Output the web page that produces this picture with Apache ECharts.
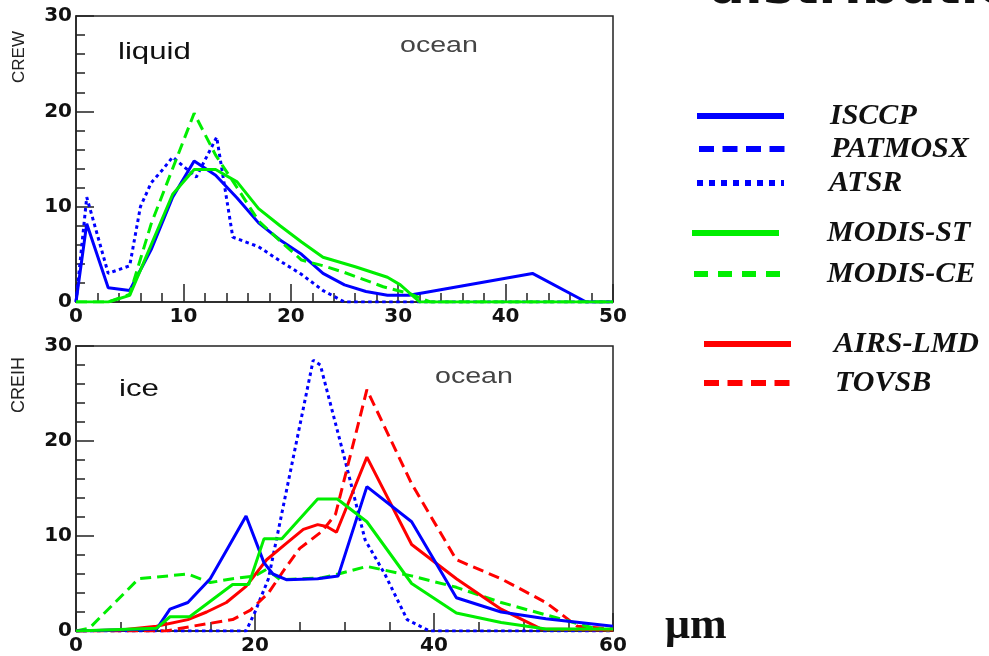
<!DOCTYPE html>
<html>
<head>
<meta charset="utf-8">
<script src="https://cdn.jsdelivr.net/npm/echarts@6/dist/echarts.min.js"></script>
<style>
html,body{margin:0;padding:0;background:#fff;}
#chart{width:989px;height:656px;}
</style>
</head>
<body>
<div id="chart"></div>
<script>
// ---- data: [effective radius (µm), frequency] ----
const liqISCCP   = [[0,0],[1,8.2],[3,1.5],[5,1.2],[7,5.5],[9,11],[11,14.8],[13,13.3],[15,10.9],[17,8.3],[19,6.5],[21,5],[23,3],[25,1.8],[27,1.1],[29,0.7],[31,0.7],[32.5,1],[42.5,3],[47.5,0],[50,0]];
const liqATSR    = [[0,0],[1,11],[3,3],[5,3.8],[6,10],[7,12.5],[8,13.8],[9,15.2],[11.2,13.1],[13.1,17.3],[14.6,6.8],[17,5.8],[19,4.3],[21,2.9],[23,1.2],[25,0],[50,0]];
const liqMODISST = [[0,0],[3,0],[5,0.7],[7,6],[9,11.3],[11,13.9],[13,13.9],[15,12.6],[17,9.8],[19,8],[21,6.3],[23,4.7],[26,3.7],[29,2.6],[30.2,1.8],[32,0],[50,0]];
const liqMODISCE = [[0,0],[3,0],[5,0.8],[7,8.2],[9,14],[11,19.8],[13,15.4],[15,12],[17,8.5],[19,6.4],[21,4.4],[23,3.8],[25,3.1],[28.6,1.6],[31,0.9],[33,0],[50,0]];

const iceISCCP   = [[0,0],[9,0.2],[10.5,2.3],[12.5,3],[15,5.5],[17,8.8],[19,12.1],[21,7.2],[22,6],[23.5,5.4],[27,5.5],[29.3,5.8],[32.5,15.2],[37.5,11.5],[42.5,3.5],[47.5,2],[52.5,1.3],[60,0.5]];
const iceATSR    = [[0,0],[19,0],[20,2],[21.5,5.5],[26.5,28.5],[27.3,28],[30,18.2],[32.3,9.6],[34.5,6],[37,1.2],[39.5,0],[60,0]];
const iceMODISST = [[0,0],[9,0.3],[10.5,1.5],[12.7,1.5],[17.5,4.9],[19.3,4.9],[21,9.7],[23,9.7],[27,13.9],[29.2,13.9],[32.5,11.5],[37.5,5],[42.5,1.9],[47.5,0.9],[52.5,0.2],[60,0.2]];
const iceMODISCE = [[0,0],[1.5,0.3],[7,5.5],[12.5,6],[15,5.1],[17.5,5.5],[20,5.8],[21.3,6.5],[22.8,5.4],[27.5,5.6],[29.3,6],[32.5,6.8],[37.5,5.8],[42.5,4.6],[47.5,3],[52.5,1.7],[57.5,0.4],[60,0]];
const iceAIRSLMD = [[0,0],[5,0.1],[9,0.5],[12.5,1.2],[14.6,2],[16.8,3],[19,4.7],[21.3,7.5],[23.6,9.3],[25.4,10.7],[27,11.2],[28,11],[29.1,10.4],[32.5,18.3],[37.5,9.1],[42.5,5.5],[47.5,2.3],[52,0.2],[60,0.1]];
const iceTOVSB   = [[0,0],[10,0],[13,0.5],[17.5,1.2],[19.5,2.2],[21.5,4],[23.3,6.5],[25,8.7],[27.5,10.5],[29,12.3],[32.5,25.4],[37.5,15.5],[42.5,7.5],[47.5,5.5],[52.5,3],[56,0.5],[60,0.2]];
const patmosx    = [];

const seriesNames = ['ISCCP','PATMOSX','ATSR','MODIS-ST','MODIS-CE','AIRS-LMD','TOVSB'];
const panelLabels = ['liquid','ice'];
const axisNames = ['CREW','CREIH'];

// ---- styles ----
const BLUE='#0000ff', GREEN='#00ee00', RED='#ff0000';
const DASH=[11,6], DOT=[3.5,3.5];
const tickFont = {color:'#111', fontFamily:'DejaVu Sans', fontWeight:'bold', fontSize:20};

function xAx(idx, max, interval, minorSplit){
  return {type:'value', gridIndex:idx, min:0, max:max, interval:interval,
    axisLine:{show:true, lineStyle:{color:'#222', width:1.5}},
    axisTick:{show:true, inside:true, length:18, lineStyle:{color:'#222', width:1.5}},
    minorTick:{show:true, splitNumber:minorSplit, length:9, lineStyle:{color:'#222', width:1.5}},
    splitLine:{show:false},
    axisLabel:{...tickFont, margin:5}};
}
function yAx(idx){
  return {type:'value', gridIndex:idx, min:0, max:30, interval:10,
    axisLine:{show:true, lineStyle:{color:'#222', width:1.5}},
    axisTick:{show:true, inside:true, length:18, lineStyle:{color:'#222', width:1.5}},
    minorTick:{show:true, splitNumber:5, length:9, lineStyle:{color:'#222', width:1.5}},
    splitLine:{show:false},
    axisLabel:{...tickFont, margin:4}};
}
function ser(name, data, color, type, idx){
  return {name:name, type:'line', data:data, xAxisIndex:idx, yAxisIndex:idx,
    symbol:'none', showSymbol:false, smooth:false, animation:false, clip:true,
    lineStyle:{color:color, width:3, type:type}, itemStyle:{color:color}};
}
function leg(name, lineStart, textX, cy, dash){
  return {data:[name], left:lineStart-5, top:cy-23, padding:5,
    itemWidth:87, itemHeight:36, selectedMode:false,
    itemStyle:{opacity:0, borderWidth:0},
    lineStyle:{width:6, type:dash, cap:'butt'},
    textStyle:{color:'#111', fontFamily:'Liberation Serif', fontStyle:'italic', fontWeight:'bold', fontSize:30,
      padding:[0,0,0,textX-(lineStart+87+5)]}};
}
function txt(text, x, y, font, opts){
  return Object.assign({type:'text', x:x, y:y, silent:true,
    style:{text:text, font:font, fill:'#111', align:'left', verticalAlign:'middle'}}, opts||{});
}

const option = {
  backgroundColor:'#fff',
  animation:false,
  grid:[
    {left:76, top:16, width:537, height:286, show:true, borderColor:'#222', borderWidth:1.5, backgroundColor:'#fff'},
    {left:76, top:346, width:537, height:286, show:true, borderColor:'#222', borderWidth:1.5, backgroundColor:'#fff'}
  ],
  xAxis:[xAx(0,50,10,5), xAx(1,60,20,4)],
  yAxis:[yAx(0), yAx(1)],
  legend:[
    leg('ISCCP',694,827,119,'solid'),
    leg('PATMOSX',696,828,152,[15,8.5]),
    leg('ATSR',694,826,186,[6,6]),
    leg('MODIS-ST',689,824,236,'solid'),
    leg('MODIS-CE',691,824,277,[14,10]),
    leg('AIRS-LMD',701,831,347,'solid'),
    leg('TOVSB',701,832,386,[15,8.5])
  ],
  series:[
    ser('ISCCP', liqISCCP, BLUE, 'solid', 0),
    ser('ATSR', liqATSR, BLUE, DOT, 0),
    ser('MODIS-CE', liqMODISCE, GREEN, DASH, 0),
    ser('MODIS-ST', liqMODISST, GREEN, 'solid', 0),
    ser('PATMOSX', patmosx, BLUE, DASH, 1),
    ser('ATSR', iceATSR, BLUE, DOT, 1),
    ser('TOVSB', iceTOVSB, RED, DASH, 1),
    ser('MODIS-CE', iceMODISCE, GREEN, DASH, 1),
    ser('AIRS-LMD', iceAIRSLMD, RED, 'solid', 1),
    ser('ISCCP', iceISCCP, BLUE, 'solid', 1),
    ser('MODIS-ST', iceMODISST, GREEN, 'solid', 1)
  ],
  graphic:[
    txt(axisNames[0], 19, 57, '17px "Liberation Sans"', {rotation:Math.PI/2, style:{text:axisNames[0], font:'17px "Liberation Sans"', fill:'#222', align:'center', verticalAlign:'middle'}}),
    txt(axisNames[1], 19, 385, '18px "Liberation Sans"', {rotation:Math.PI/2, style:{text:axisNames[1], font:'18px "Liberation Sans"', fill:'#222', align:'center', verticalAlign:'middle'}}),
    txt(panelLabels[0], 118, 52, '24px "Liberation Sans"', {scaleX:1.3}),
    txt(panelLabels[1], 119, 389, '24px "Liberation Sans"', {scaleX:1.3}),
    txt('ocean', 400, 46, '22px "Liberation Sans"', {scaleX:1.3, style:{text:'ocean', font:'22px "Liberation Sans"', fill:'#444', align:'left', verticalAlign:'middle'}}),
    txt('ocean', 435, 377, '22px "Liberation Sans"', {scaleX:1.3, style:{text:'ocean', font:'22px "Liberation Sans"', fill:'#444', align:'left', verticalAlign:'middle'}}),
    txt('μm', 665, 627, 'bold 44px "Liberation Serif"'),
    txt('distributions', 708, -9, 'bold 48px "DejaVu Sans"', {scaleX:1.08})
  ]
};

const chart = echarts.init(document.getElementById('chart'), null, {renderer:'canvas'});
chart.setOption(option);
</script>
</body>
</html>
